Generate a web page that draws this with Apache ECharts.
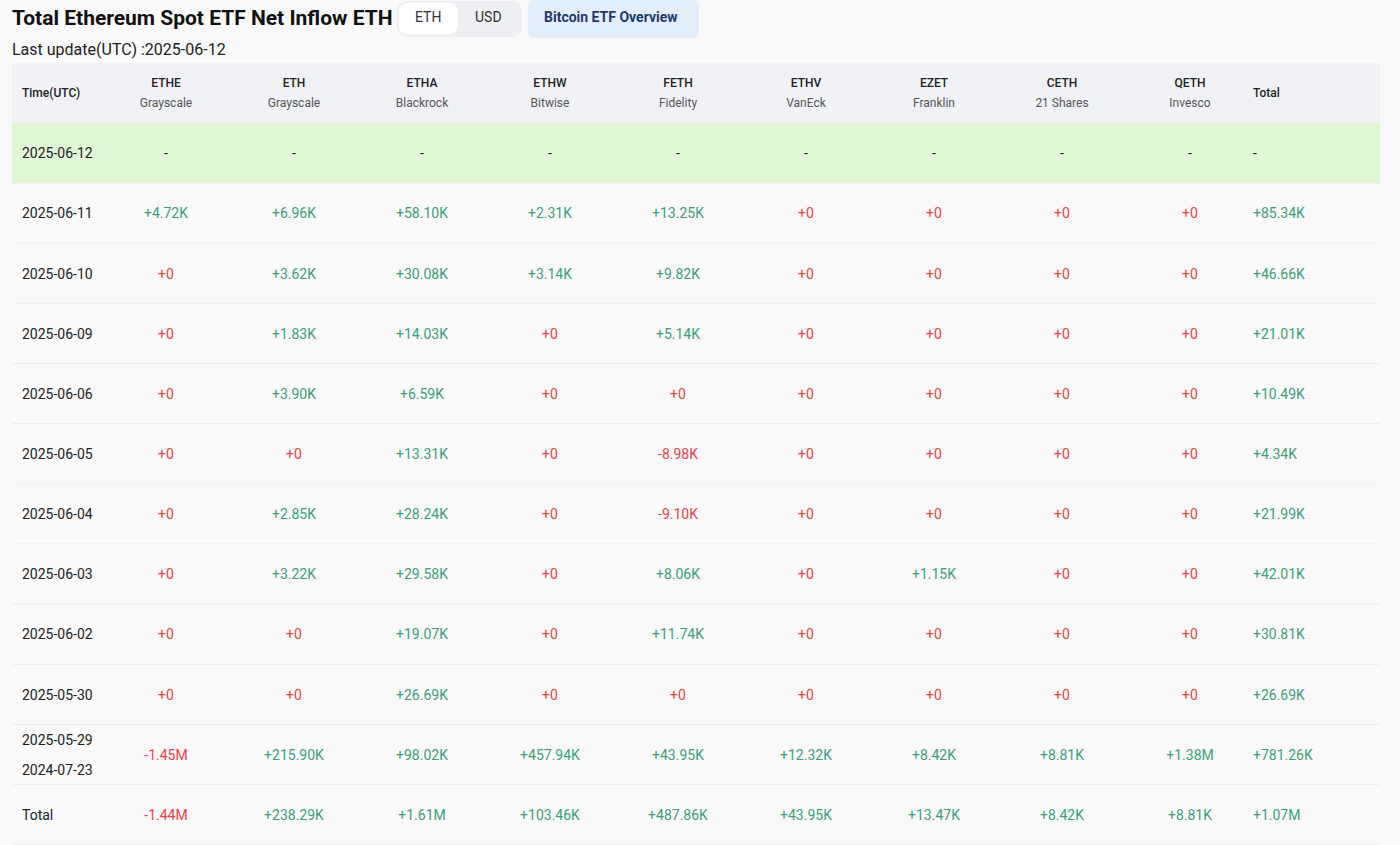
<!DOCTYPE html>
<html><head><meta charset="utf-8">
<script src="https://cdn.jsdelivr.net/npm/echarts@6/dist/echarts.min.js"></script>
<style>html,body{margin:0;background:#f9f9f9}#c{width:1400px;height:845px}</style>
</head><body><div id="c"></div>
<script>
const tickers = ['ETHE','ETH','ETHA','ETHW','FETH','ETHV','EZET','CETH','QETH'];
const issuers = ['Grayscale','Grayscale','Blackrock','Bitwise','Fidelity','VanEck','Franklin','21 Shares','Invesco'];
const dates = ['2025-06-12','2025-06-11','2025-06-10','2025-06-09','2025-06-06','2025-06-05','2025-06-04','2025-06-03','2025-06-02','2025-05-30','2025-05-29\n2024-07-23','Total'];
// values in K ETH; null = no data
const ETHE = [null,4.72,0,0,0,0,0,0,0,0,-1450,-1440];
const ETH  = [null,6.96,3.62,1.83,3.90,0,2.85,3.22,0,0,215.90,238.29];
const ETHA = [null,58.10,30.08,14.03,6.59,13.31,28.24,29.58,19.07,26.69,98.02,1610];
const ETHW = [null,2.31,3.14,0,0,0,0,0,0,0,457.94,103.46];
const FETH = [null,13.25,9.82,5.14,0,-8.98,-9.10,8.06,11.74,0,43.95,487.86];
const ETHV = [null,0,0,0,0,0,0,0,0,0,12.32,43.95];
const EZET = [null,0,0,0,0,0,0,1.15,0,0,8.42,13.47];
const CETH = [null,0,0,0,0,0,0,0,0,0,8.81,8.42];
const QETH = [null,0,0,0,0,0,0,0,0,0,1380,8.81];
const TOTAL= [null,85.34,46.66,21.01,10.49,4.34,21.99,42.01,30.81,26.69,781.26,1070];
const columns = [ETHE,ETH,ETHA,ETHW,FETH,ETHV,EZET,CETH,QETH,TOTAL];

function fmt(v){
  if(v===null) return '-';
  if(v===0) return '+0';
  const s = v>0?'+':'-', a=Math.abs(v);
  return a>=1000 ? s+(a/1000).toFixed(2)+'M' : s+a.toFixed(2)+'K';
}
const GREEN='#3a9f7c', RED='#e8414a', DARK='#222';
const rowNames = ['header'].concat(dates);
const cells = [];
cells.push([0,0,'Time(UTC)','h']);
tickers.forEach((t,i)=>cells.push([i+1,0,t+'\n'+issuers[i],'h2']));
cells.push([10,0,'Total','h']);
dates.forEach((d,r)=>{
  cells.push([0,r+1,d,'d']);
  columns.forEach((col,c)=>{
    const v=col[r];
    cells.push([c+1,r+1,fmt(v), v===null?'d':(v<0?'r':(v===0&&c<9?'r':(v===0?'r':'g')))]);
  });
});
const rows = rowNames.map((n,i)=>[i]);

const chart = echarts.init(document.getElementById('c'),null,{renderer:'svg'});
chart.setOption({
  backgroundColor:'#f9f9f9',
  animation:false,
  grid:{left:12,top:63,width:1368,height:782},
  xAxis:{type:'value',min:-0.203125,max:10.484375,show:false},
  yAxis:{type:'category',data:rowNames,inverse:true,show:false},
  graphic:[
    {type:'text',left:12,top:7,style:{text:'Total Ethereum Spot ETF Net Inflow ETH',font:'bold 21px Roboto',fill:'#111'}},
    {type:'rect',shape:{x:397,y:1,width:125,height:36,r:10},style:{fill:'#eeeff2'}},
    {type:'rect',shape:{x:399,y:3,width:59,height:31,r:8},style:{fill:'#fff'}},
    {type:'text',left:415,top:10,style:{text:'ETH',font:'14px Roboto',fill:'#333'}},
    {type:'text',left:475,top:10,style:{text:'USD',font:'14px Roboto',fill:'#333'}},
    {type:'rect',shape:{x:528,y:0,width:171,height:38,r:6},style:{fill:'#e4eefa'}},
    {type:'text',left:544,top:10,style:{text:'Bitcoin ETF Overview',font:'bold 14px Roboto',fill:'#1d3a6e'}},
    {type:'text',left:12,top:41,style:{text:'Last update(UTC) :2025-06-12',font:'16px Roboto',fill:'#222'}}
  ],
  series:[
    {type:'custom',data:rows,silent:true,renderItem:(p,api)=>{
      const i=api.value(0); const cs=p.coordSys;
      const y=api.coord([0,i])[1], h=api.size([0,1])[1];
      const fill = i===0?'#f1f2f6':(i===1?'#e0f7d6':'#f9f9f9');
      return {type:'group',children:[
        {type:'rect',shape:{x:cs.x,y:y-h/2,width:cs.width,height:h},style:{fill}},
        {type:'line',shape:{x1:cs.x,y1:y+h/2,x2:cs.x+cs.width,y2:y+h/2},style:{stroke:'#e3e3e3',lineWidth:1}}
      ]};
    }},
    {type:'custom',data:cells,silent:true,renderItem:(p,api)=>{
      const c=api.value(0), r=api.value(1), t=cells[p.dataIndex][2], k=cells[p.dataIndex][3];
      const pt=api.coord([c,r]);
      let x=pt[0], align='center';
      if(c===0){x=22;align='left';}
      if(c===10){x=1253;align='left';}
      const color = k==='g'?GREEN:(k==='r'?RED:DARK);
      if(k==='h2'){
        const parts=t.split('\n');
        return {type:'group',children:[
          {type:'text',style:{x,y:pt[1]-10,text:parts[0],align,verticalAlign:'middle',font:'500 12px Roboto',fill:'#222'}},
          {type:'text',style:{x,y:pt[1]+10,text:parts[1],align,verticalAlign:'middle',font:'12px Roboto',fill:'#555'}}
        ]};
      }
      return {type:'text',style:{x,y:pt[1],text:t,align,verticalAlign:'middle',
        font:(k==='h'?'500 12px':'14px')+' Roboto',fill:color,lineHeight:30}};
    }}
  ]
});
</script></body></html>
